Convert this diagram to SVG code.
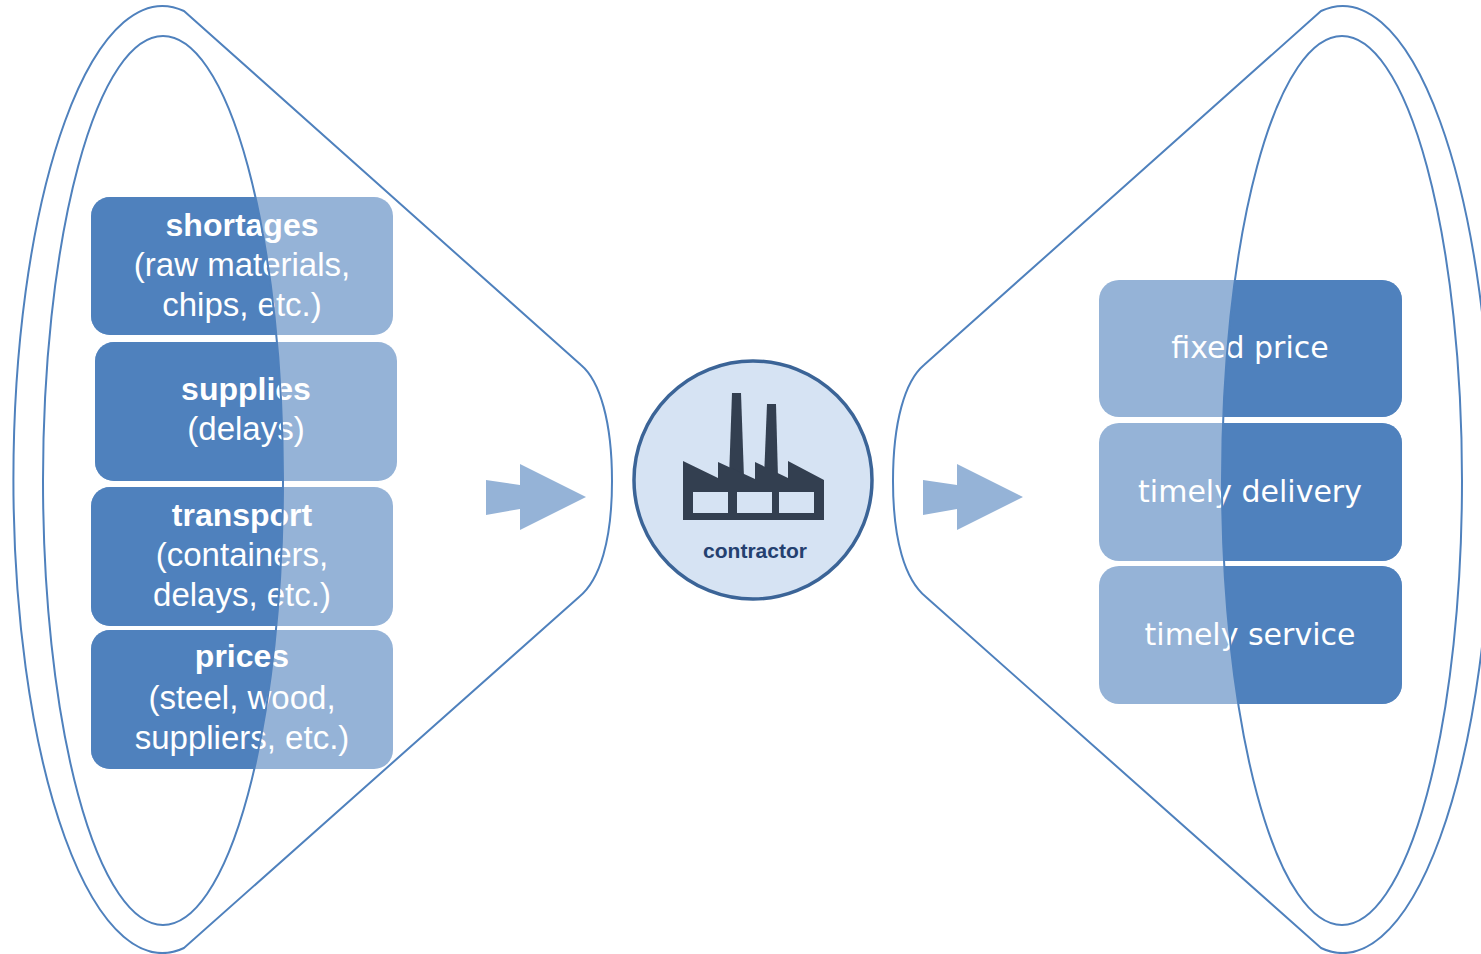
<svg xmlns="http://www.w3.org/2000/svg" width="1481" height="954" viewBox="0 0 1481 954">
<style>
.funnel{fill:none;stroke:#4F81BD;stroke-width:2}
.light{fill:#95B3D7}
.dark{fill:#4F81BD}
.bt{font-family:"Liberation Sans",Arial,sans-serif;font-weight:bold;font-size:32px;fill:#fff;text-anchor:middle}
.rt{font-family:"Liberation Sans",Arial,sans-serif;font-size:33px;fill:#fff;text-anchor:middle}
.rr{font-family:"DejaVu Sans",sans-serif;font-size:30px;fill:#fff;text-anchor:middle}
.arrow{fill:#95B3D7}
.icon{fill:#333F50}
</style>
<defs>
<clipPath id="clipL"><ellipse cx="163" cy="480.5" rx="120" ry="444.5"/></clipPath>
<clipPath id="clipR"><ellipse cx="1342" cy="480.5" rx="120" ry="444.5"/></clipPath>
<path id="funnelOuter" d="M184,11 L581,365 C600,381 612,422 612,481 C612,540 600,580 579,597 L184,948 A149,473.5 0 1 1 184,11 Z"/>
<polygon id="arr" points="486,480 520,485 520,464 586,497 520,530 520,509 486,515"/>
</defs>

<g id="connectors">
<use href="#arr" class="arrow"/>
<use href="#arr" class="arrow" transform="translate(437,0)"/>
</g>

<g id="box-shortages">
<rect class="light" x="91" y="197" width="302" height="138" rx="19"/>
<rect class="dark" x="91" y="197" width="302" height="138" rx="19" clip-path="url(#clipL)"/>
<text class="bt" x="242" y="236">shortages</text>
<text class="rt" x="242" y="276">(raw materials,</text>
<text class="rt" x="242" y="316">chips, etc.)</text>
</g>
<g id="box-supplies">
<rect class="light" x="95" y="342" width="302" height="139" rx="19"/>
<rect class="dark" x="95" y="342" width="302" height="139" rx="19" clip-path="url(#clipL)"/>
<text class="bt" x="246" y="400">supplies</text>
<text class="rt" x="246" y="440">(delays)</text>
</g>
<g id="box-transport">
<rect class="light" x="91" y="487" width="302" height="139" rx="19"/>
<rect class="dark" x="91" y="487" width="302" height="139" rx="19" clip-path="url(#clipL)"/>
<text class="bt" x="242" y="526">transport</text>
<text class="rt" x="242" y="566">(containers,</text>
<text class="rt" x="242" y="606">delays, etc.)</text>
</g>
<g id="box-prices">
<rect class="light" x="91" y="630" width="302" height="139" rx="19"/>
<rect class="dark" x="91" y="630" width="302" height="139" rx="19" clip-path="url(#clipL)"/>
<text class="bt" x="242" y="667">prices</text>
<text class="rt" x="242" y="709">(steel, wood,</text>
<text class="rt" x="242" y="749">suppliers, etc.)</text>
</g>

<g id="box-fixed-price">
<rect class="light" x="1099" y="280" width="303" height="137" rx="20"/>
<rect class="dark" x="1099" y="280" width="303" height="137" rx="20" clip-path="url(#clipR)"/>
<text class="rr" x="1250" y="358">fixed price</text>
</g>
<g id="box-timely-delivery">
<rect class="light" x="1099" y="423" width="303" height="138" rx="20"/>
<rect class="dark" x="1099" y="423" width="303" height="138" rx="20" clip-path="url(#clipR)"/>
<text class="rr" x="1250" y="502">timely delivery</text>
</g>
<g id="box-timely-service">
<rect class="light" x="1099" y="566" width="303" height="138" rx="20"/>
<rect class="dark" x="1099" y="566" width="303" height="138" rx="20" clip-path="url(#clipR)"/>
<text class="rr" x="1250" y="645">timely service</text>
</g>

<g id="funnel-left">
<use href="#funnelOuter" class="funnel"/>
<ellipse class="funnel" cx="163" cy="480.5" rx="120" ry="444.5"/>
</g>
<g id="funnel-right" transform="translate(1505,0) scale(-1,1)">
<use href="#funnelOuter" class="funnel"/>
<ellipse class="funnel" cx="163" cy="480.5" rx="120" ry="444.5"/>
</g>

<g id="contractor">
<circle cx="753" cy="480" r="119" fill="#D6E3F3" stroke="#3B6497" stroke-width="3.5"/>
<polygon class="icon" points="732,393 741,393 744,478 729,478"/>
<polygon class="icon" points="767,404 776,404 778,478 764,478"/>
<path class="icon" d="M683,461 L718,478 L718,462 L755,479 L755,462 L788,478 L788,461 L824,480 L824,520 L683,520 Z"/>
<rect x="693" y="492" width="35" height="21" fill="#D6E3F3"/>
<rect x="737" y="492" width="35" height="21" fill="#D6E3F3"/>
<rect x="779" y="492" width="35" height="21" fill="#D6E3F3"/>
<text x="755" y="558" font-family="Liberation Sans, Arial, sans-serif" font-weight="bold" font-size="21" fill="#24406F" text-anchor="middle">contractor</text>
</g>
</svg>
